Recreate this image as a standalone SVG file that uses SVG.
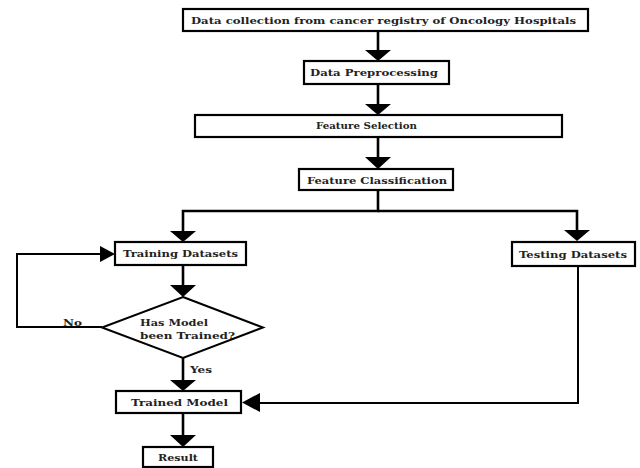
<svg xmlns="http://www.w3.org/2000/svg" width="640" height="468" viewBox="0 0 640 468">
<style>
.box{fill:#fff;stroke:#000;stroke-width:2.2}
.t{font-family:"DejaVu Serif","Liberation Serif",serif;font-weight:bold;font-size:10px;fill:#222}
.ln{fill:none;stroke:#000;stroke-width:2.6}
.thin{fill:none;stroke:#000;stroke-width:2}
.ah{fill:#000;stroke:none}
</style>
<rect width="640" height="468" fill="#fff"/>
<g id="connectors">
<line class="ln" x1="378" y1="31" x2="378" y2="51"/>
<polygon class="ah" points="365,50 391,50 378,61"/>
<line class="ln" x1="378" y1="84" x2="378" y2="105"/>
<polygon class="ah" points="365,104 391,104 378,115"/>
<line class="ln" x1="378" y1="137" x2="378" y2="158"/>
<polygon class="ah" points="365,157 391,157 378,169"/>
<polyline class="ln" points="378,190 378,211 183,211 183,232"/>
<polygon class="ah" points="170,231 196,231 183,242"/>
<polyline class="ln" points="378,211 577,211 577,231"/>
<polygon class="ah" points="564,230 590,230 577,241"/>
<line class="ln" x1="183" y1="265" x2="183" y2="286"/>
<polygon class="ah" points="170,285 196,285 183,297"/>
<polyline class="thin" points="102,327 17,327 17,254 101,254"/>
<polygon class="ah" points="100,246 115,254 100,262"/>
<line class="ln" x1="183" y1="358" x2="183" y2="381"/>
<polygon class="ah" points="170,380 196,380 183,391"/>
<polyline class="thin" points="578,266 578,403 258,403"/>
<polygon class="ah" points="260,393 260,412 242,402.5"/>
<line class="ln" x1="183" y1="413" x2="183" y2="436"/>
<polygon class="ah" points="170,435 196,435 183,447"/>
</g>
<g id="n1"><rect class="box" x="183" y="9" width="405" height="22"/><text class="t" x="191" y="24" textLength="385" lengthAdjust="spacingAndGlyphs">Data collection from cancer registry of Oncology Hospitals</text></g>
<g id="n2"><rect class="box" x="304" y="61" width="145" height="23"/><text class="t" x="310" y="76" textLength="128" lengthAdjust="spacingAndGlyphs">Data Preprocessing</text></g>
<g id="n3"><rect class="box" x="195" y="115" width="367" height="22"/><text class="t" x="316" y="129" textLength="101" lengthAdjust="spacingAndGlyphs">Feature Selection</text></g>
<g id="n4"><rect class="box" x="299" y="169" width="154" height="21"/><text class="t" x="307" y="184" textLength="140" lengthAdjust="spacingAndGlyphs">Feature Classification</text></g>
<g id="n5"><rect class="box" x="115" y="242" width="131" height="23"/><text class="t" x="123" y="257" textLength="115" lengthAdjust="spacingAndGlyphs">Training Datasets</text></g>
<g id="n6"><rect class="box" x="512" y="242" width="123" height="24"/><text class="t" x="519" y="258" textLength="108" lengthAdjust="spacingAndGlyphs">Testing Datasets</text></g>
<g id="n7"><polygon fill="#fff" stroke="#000" stroke-width="2" points="183,297 263,327.5 183,358 102,327.5"/><text class="t" x="140" y="326" textLength="68" lengthAdjust="spacingAndGlyphs">Has Model</text><text class="t" x="140" y="339" textLength="95" lengthAdjust="spacingAndGlyphs">been Trained?</text></g>
<g id="n8"><rect class="box" x="116" y="391" width="125" height="22"/><text class="t" x="131" y="406" textLength="97" lengthAdjust="spacingAndGlyphs">Trained Model</text></g>
<g id="n9"><rect class="box" x="143" y="447" width="70" height="20"/><text class="t" x="158" y="461" textLength="40" lengthAdjust="spacingAndGlyphs">Result</text></g>
<g id="labels"><text class="t" x="63" y="326" textLength="19" lengthAdjust="spacingAndGlyphs">No</text><text class="t" x="190" y="373" textLength="22" lengthAdjust="spacingAndGlyphs">Yes</text></g>
</svg>
